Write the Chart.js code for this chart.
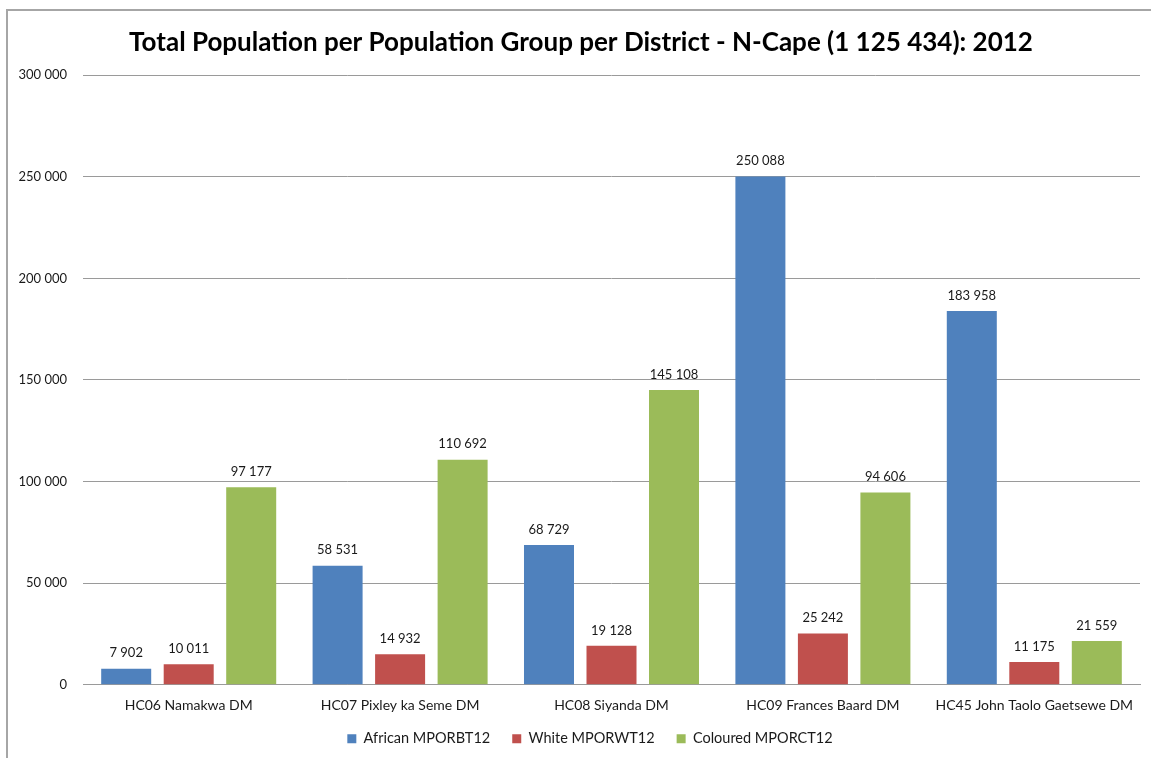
<!DOCTYPE html>
<html>
<head>
<meta charset="utf-8">
<script src="https://cdn.jsdelivr.net/npm/chart.js@4/dist/chart.umd.min.js"></script>
<style>
    html, body { margin: 0; padding: 0; background: #fff; overflow: hidden; }
    #wrap { position: relative; width: 1151px; height: 758px; }
    #frame { position: absolute; left: 6px; top: 9px; width: 1300px; height: 900px; border: 2px solid #a6a6a6; box-sizing: border-box; }
    canvas { position: absolute; left: 0; top: 0; }
</style>
</head>
<body>
<div id="wrap">
    <div id="frame"></div>
    <canvas id="chart" width="1151" height="758"></canvas>
</div>
<script>
const districts = ["HC06 Namakwa DM", "HC07 Pixley ka Seme DM", "HC08 Siyanda DM", "HC09 Frances Baard DM", "HC45 John Taolo Gaetsewe DM"];
const african = [7902, 58531, 68729, 250088, 183958];
const white = [10011, 14932, 19128, 25242, 11175];
const coloured = [97177, 110692, 145108, 94606, 21559];
const seriesNames = ["African MPORBT12", "White MPORWT12", "Coloured MPORCT12"];
const seriesColours = ["#4F81BD", "#C0504D", "#9BBB59"];

const fontFamily = "Lato, 'Open Sans', sans-serif";

function spaced(n) {
    return String(Math.round(n)).replace(/\B(?=(\d{3})+(?!\d))/g, " ");
}

// labels above each bar, like the excel data labels
const barLabels = {
    id: 'barLabels',
    afterDatasetsDraw(chart) {
        const ctx = chart.ctx;
        ctx.save();
        ctx.font = "13px " + fontFamily;
        ctx.fillStyle = "#1a1a1a";
        ctx.textAlign = "center";
        ctx.textBaseline = "bottom";
        chart.data.datasets.forEach((ds, i) => {
            chart.getDatasetMeta(i).data.forEach((bar, j) => {
                ctx.fillText(spaced(ds.data[j]), bar.x, bar.y - 9);
            });
        });
        ctx.restore();
    }
};

// legend takes less room above its items, and title/legend sit a bit right like excel does
const LEGEND_TRIM = 18;
const tweakBoxes = {
    id: 'tweakBoxes',
    afterInit(chart) {
        const lg = chart.legend;
        const fit = lg.fit;
        lg.fit = function () {
            fit.call(this);
            this.height -= LEGEND_TRIM;
        };
    },
    afterLayout(chart) {
        chart.legend.top -= LEGEND_TRIM - 2;
        chart.legend.left += 20;
        chart.legend.right += 20;
        chart.titleBlock.left += 22;
    }
};

const chart = new Chart(document.getElementById("chart"), {
    type: 'bar',
    data: {
        labels: districts,
        datasets: [african, white, coloured].map((d, i) => ({
            label: seriesNames[i],
            data: d,
            backgroundColor: seriesColours[i],
            borderWidth: 0,
            categoryPercentage: 0.887,
            barPercentage: 0.8
        }))
    },
    options: {
        responsive: false,
        animation: false,
        layout: { padding: { left: 0, right: 11, top: 0, bottom: 4 } },
        plugins: {
            title: {
                display: true,
                text: "Total Population per Population Group per District - N-Cape (1 125 434): 2012",
                color: "#000",
                font: { family: fontFamily, size: 26, weight: 'bold', lineHeight: 1.2 },
                padding: { top: 27, bottom: 17 }
            },
            legend: {
                position: 'bottom',
                labels: {
                    boxWidth: 9,
                    boxHeight: 9,
                    padding: 22,
                    color: "#1a1a1a",
                    font: { family: fontFamily, size: 14.5 }
                }
            },
            tooltip: { enabled: false }
        },
        scales: {
            x: {
                grid: { display: false, drawTicks: false },
                border: { display: true, color: "#9a9a9a", width: 1 },
                ticks: {
                    color: "#1a1a1a",
                    font: { family: fontFamily, size: 14 },
                    padding: 12,
                    maxRotation: 0
                }
            },
            y: {
                min: 0,
                max: 300000,
                afterFit(scale) { scale.width = 83; },
                grid: { color: "#9a9a9a", drawTicks: false },
                border: { display: false },
                ticks: {
                    stepSize: 50000,
                    color: "#1a1a1a",
                    font: { family: fontFamily, size: 13 },
                    padding: 16,
                    callback: v => spaced(v)
                }
            }
        }
    },
    plugins: [barLabels, tweakBoxes]
});
</script>
</body>
</html>
